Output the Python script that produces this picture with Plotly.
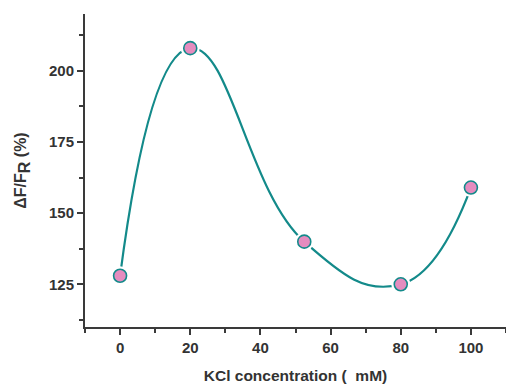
import plotly.graph_objects as go

kcl_mM = [0, 20, 52.5, 80, 100]
dF_FR = [128, 208, 140, 125, 159]
x_ticks = [0, 20, 40, 60, 80, 100]
y_ticks = [125, 150, 175, 200]

teal = "#138a8a"
pink = "#e58cbf"
axc = "#3a3a3a"

fig = go.Figure()
fig.add_trace(go.Scatter(x=kcl_mM, y=dF_FR, mode="lines",
                         line=dict(color=teal, width=2.2, shape="spline", smoothing=1.3),
                         showlegend=False, hoverinfo="skip"))
fig.add_trace(go.Scatter(x=kcl_mM, y=dF_FR, mode="markers",
                         marker=dict(size=19, color="white"),
                         showlegend=False, hoverinfo="skip"))
fig.add_trace(go.Scatter(x=kcl_mM, y=dF_FR, mode="markers",
                         marker=dict(size=13, color=pink, line=dict(color=teal, width=1.6)),
                         showlegend=False))

font = dict(family="Liberation Sans, Arial, sans-serif", size=15, color="#333333")
fig.update_layout(
    width=506, height=384,
    margin=dict(l=85, r=0, t=14, b=57),
    plot_bgcolor="white", paper_bgcolor="white",
    font=font,
)
fig.update_xaxes(
    automargin=False,
    range=[-10, 110], tickvals=x_ticks, ticktext=[f"<b>{v}</b>" for v in x_ticks],
    showline=True, linecolor=axc, linewidth=2, showgrid=False, zeroline=False,
    ticks="outside", ticklen=6, tickwidth=1.5, tickcolor=axc,
    minor=dict(dtick=10, ticks="outside", ticklen=4, tickwidth=1.5, tickcolor=axc, tick0=0),
    title=dict(text="<b>KCl concentration (  mM)</b>", font=dict(size=15.5, color="#333333"), standoff=15),
)
fig.update_yaxes(
    automargin=False,
    range=[110, 220], tickvals=y_ticks, ticktext=[f"<b>{v}</b>" for v in y_ticks],
    showline=True, linecolor=axc, linewidth=2, showgrid=False, zeroline=False,
    ticks="outside", ticklen=6, tickwidth=1.5, tickcolor=axc,
    minor=dict(dtick=12.5, ticks="outside", ticklen=4, tickwidth=1.5, tickcolor=axc, tick0=0),
    title=dict(text="<b>ΔF/F<sub><span style='font-size:16px'>R</span></sub> (%)</b>",
               font=dict(size=16, color="#333333"), standoff=18),
)
fig.write_html("out.html", config={"displayModeBar": False},
               post_script="document.body.style.margin='0';document.body.style.overflow='hidden';")
